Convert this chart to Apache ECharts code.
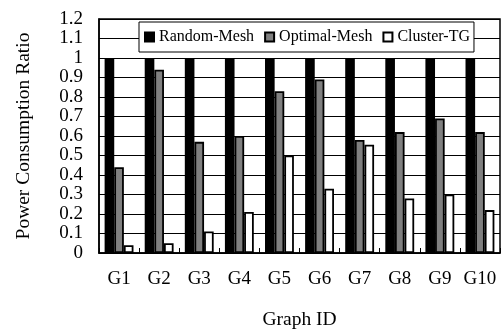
<!DOCTYPE html>
<html><head><meta charset="utf-8">
<script src="https://cdn.jsdelivr.net/npm/echarts@6/dist/echarts.min.js"></script>
<style>html,body{margin:0;padding:0;background:#fff}#c{width:502px;height:329px}</style>
</head><body><div id="c"></div>
<script>
const categories = ['G1','G2','G3','G4','G5','G6','G7','G8','G9','G10'];
const randomMesh = [1,1,1,1,1,1,1,1,1,1];
const optimalMesh = [0.44,0.94,0.57,0.60,0.83,0.89,0.58,0.62,0.69,0.62];
const clusterTG = [0.04,0.05,0.11,0.21,0.50,0.33,0.555,0.28,0.30,0.22];
const seriesNames = ['Random-Mesh','Optimal-Mesh','Cluster-TG'];
const seriesColors = ['#000000','#808080','#ffffff'];

const font = 'Liberation Serif';
const chart = echarts.init(document.getElementById('c'));
const data = [randomMesh, optimalMesh, clusterTG];
chart.setOption({
  animation: false,
  textStyle: {fontFamily: font, color: '#000'},
  grid: {left: 99, right: 2, top: 19, bottom: 76, show: true, borderColor: '#000', borderWidth: 1.5,
    containLabel: false, outerBoundsMode: 'none'},
  legend: {
    left: 139, top: 22,
    itemWidth: 9, itemHeight: 9, itemGap: 10,
    padding: [7, 4, 7, 5],
    borderColor: '#000', borderWidth: 1, backgroundColor: '#fff',
    textStyle: {fontFamily: font, fontSize: 16, color: '#000'},
    icon: 'rect',
    data: seriesNames
  },
  xAxis: {
    type: 'category', data: categories,
    name: 'Graph ID', nameLocation: 'middle', nameGap: 57,
    nameTextStyle: {fontFamily: font, fontSize: 19.5, color: '#000'},
    axisLine: {lineStyle: {color: '#000', width: 1.5}},
    axisTick: {show: true, inside: true, length: 5, lineStyle: {color: '#000'}},
    axisLabel: {fontFamily: font, fontSize: 19, color: '#000', margin: 17, interval: 0, hideOverlap: false}
  },
  yAxis: {
    type: 'value', min: 0, max: 1.2, interval: 0.1,
    name: 'Power Consumption Ratio', nameLocation: 'middle', nameGap: 65,
    nameTextStyle: {fontFamily: font, fontSize: 19.5, color: '#000'},
    axisLine: {show: true, lineStyle: {color: '#000', width: 1.5}},
    axisTick: {show: false},
    axisLabel: {fontFamily: font, fontSize: 19, lineHeight: 19, color: '#000', margin: 16,
      showMinLabel: true, showMaxLabel: true, hideOverlap: false,
      formatter: v => String(Math.round(v * 10) / 10)},
    splitLine: {lineStyle: {color: '#000', width: 1}}
  },
  series: seriesNames.map((n, i) => ({
    name: n, type: 'bar', data: data[i],
    barGap: '0%', barCategoryGap: '28%',
    itemStyle: {color: seriesColors[i], borderColor: '#000', borderWidth: 1.8}
  }))
});
</script></body></html>
